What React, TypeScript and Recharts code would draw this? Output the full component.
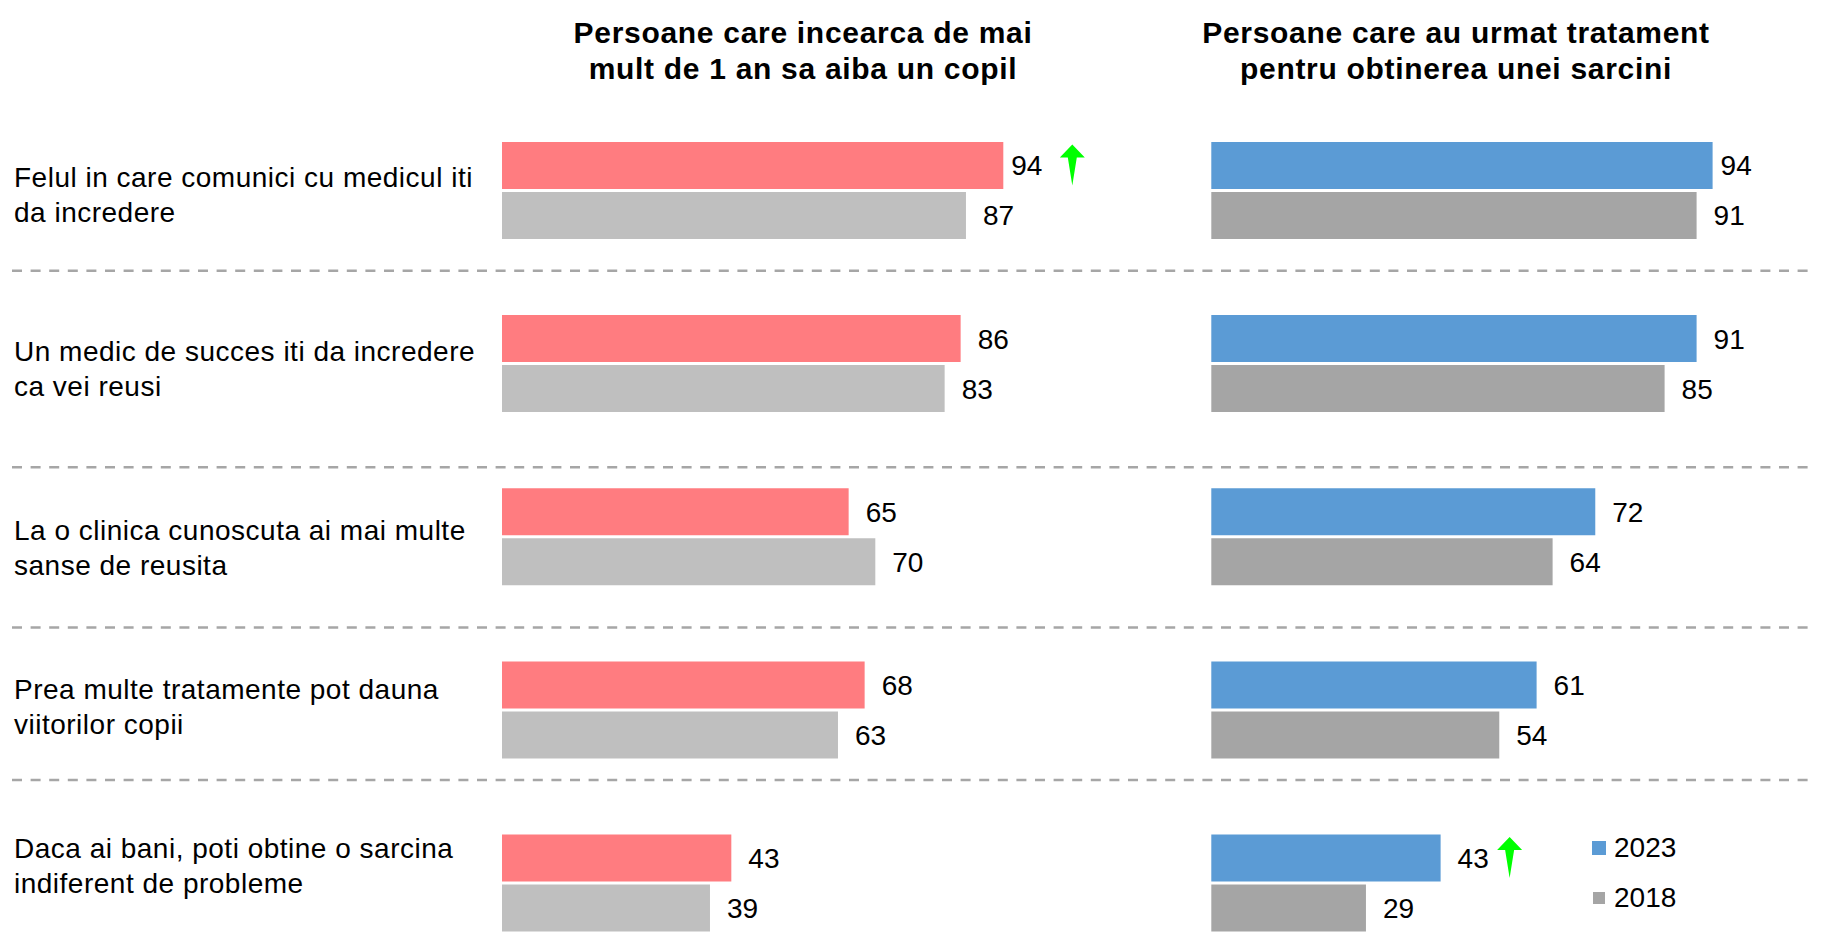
import React from 'react';
import { BarChart, Bar, XAxis, YAxis, LabelList, Legend } from 'recharts';

// ---------- data ----------
const categories: string[] = [
  'Felul in care comunici cu medicul iti\nda incredere',
  'Un medic de succes iti da incredere\nca vei reusi',
  'La o clinica cunoscuta ai mai multe\nsanse de reusita',
  'Prea multe tratamente pot dauna\nviitorilor copii',
  'Daca ai bani, poti obtine o sarcina\nindiferent de probleme',
];
const years: string[] = ['2023', '2018'];
const incearca2023: number[] = [94, 86, 65, 68, 43];
const incearca2018: number[] = [87, 83, 70, 63, 39];
const tratament2023: number[] = [94, 91, 72, 61, 43];
const tratament2018: number[] = [91, 85, 64, 54, 29];
const incearcaSignificantUp: boolean[] = [true, false, false, false, false];
const tratamentSignificantUp: boolean[] = [false, false, false, false, true];
const leftTitle: string[] = ['Persoane care incearca de mai', 'mult de 1 an sa aiba un copil'];
const rightTitle: string[] = ['Persoane care au urmat tratament', 'pentru obtinerea unei sarcini'];

// ---------- layout / style ----------
const FONT = '"Liberation Sans", Arial, Helvetica, sans-serif';
const PINK = '#FF7C80';
const LIGHT_GRAY = '#BFBFBF';
const BLUE = '#5B9BD5';
const GRAY = '#A5A5A5';
const GREEN = '#00FF00';
const CHART_H = 980;
const MARGIN_TOP = 103.9;
const MARGIN_BOTTOM = CHART_H - 969.8;
const PLOT_W = 533.3;
const LABEL_NUDGE = [-3.5, -2.3, 3.6, -11.5, -25.5];
const SEPARATORS_Y = [270.7, 467.2, 627.6, 780];

const leftData = categories.map((name, i) => ({
  name,
  v2023: incearca2023[i],
  v2018: incearca2018[i],
}));
const rightData = categories.map((name, i) => ({
  name,
  v2023: tratament2023[i],
  v2018: tratament2018[i],
}));

const arrowPath = (cx: number, cy: number) => {
  const top = cy - 21;
  const head = top + 13;
  const bottom = cy + 20;
  return `M${cx},${top} L${cx + 12.5},${head} L${cx + 4.5},${head} L${cx},${bottom} L${cx - 4.5},${head} L${cx - 12.5},${head} Z`;
};

const makeValueLabel = (flags: boolean[] | null, tightValue: number | null) => (props: any) => {
  const vb = props.viewBox && props.viewBox.width !== undefined ? props.viewBox : props;
  const x = Number(vb.x);
  const y = Number(vb.y);
  const w = Number(vb.width);
  const h = Number(vb.height);
  const idx = props.index;
  const value = props.value;
  const end = x + w;
  const gap = tightValue !== null && Number(value) === tightValue ? 8 : 17;
  const cy = y + h / 2;
  return (
    <g>
      <text x={end + gap} y={cy + 10} fontSize={28} fill="#000" fontFamily={FONT}>
        {value}
      </text>
      {flags && flags[idx] ? <path d={arrowPath(end + 69, cy)} fill={GREEN} /> : null}
    </g>
  );
};

const CategoryTick = (props: any) => {
  const { y, payload } = props;
  const idx = props.index ?? payload?.index ?? 0;
  const lines = String(payload.value).split('\n');
  const base = Number(y) + (LABEL_NUDGE[idx] ?? 0);
  return (
    <text fontSize={28} fill="#000" fontFamily={FONT} letterSpacing={0.5} textAnchor="start">
      {lines.map((l, i) => (
        <tspan key={i} x={14} y={base + i * 35}>
          {l}
        </tspan>
      ))}
    </text>
  );
};

const LegendContent = (props: any) => {
  const payload = [...(props.payload || [])].sort(
    (a: any, b: any) => years.indexOf(String(a.value)) - years.indexOf(String(b.value))
  );
  return (
    <div style={{ fontFamily: FONT, fontSize: 28, color: '#000' }}>
      {payload.map((p: any, i: number) => {
        const s = i === 0 ? 14 : 12;
        return (
          <div key={i} style={{ display: 'flex', alignItems: 'center', height: 50 }}>
            <div style={{ width: 22, display: 'flex', alignItems: 'center', justifyContent: 'flex-start' }}>
              <div style={{ width: s, height: s, background: p.color, marginLeft: i === 0 ? 0 : 1 }} />
            </div>
            <span>{p.value}</span>
          </div>
        );
      })}
    </div>
  );
};

const titleStyle = (center: number): React.CSSProperties => ({
  position: 'absolute',
  top: 15,
  left: center - 320,
  width: 640,
  textAlign: 'center',
  fontFamily: FONT,
  fontWeight: 'bold',
  fontSize: 30,
  lineHeight: '36px',
  letterSpacing: 0.7,
  color: '#000',
});

export default function App() {
  const leftW = 1150;
  const rightLeft = 1150;
  const rightW = 673;
  const rightMarginLeft = 1211.3 - rightLeft;
  return (
    <div
      style={{
        position: 'absolute',
        left: 0,
        top: 0,
        width: 1823,
        height: 946,
        overflow: 'hidden',
        background: '#fff',
        fontFamily: FONT,
      }}
    >
      <div style={titleStyle(803)}>
        {leftTitle.map((t, i) => (
          <div key={i}>{t}</div>
        ))}
      </div>
      <div style={titleStyle(1456)}>
        {rightTitle.map((t, i) => (
          <div key={i}>{t}</div>
        ))}
      </div>

      <div style={{ position: 'absolute', left: 0, top: 0 }}>
        <BarChart
          width={leftW}
          height={CHART_H}
          data={leftData}
          layout="vertical"
          barGap={3}
          margin={{ top: MARGIN_TOP, bottom: MARGIN_BOTTOM, left: 0, right: leftW - 502 - PLOT_W }}
        >
          <XAxis type="number" domain={[0, 100]} hide />
          <YAxis
            type="category"
            dataKey="name"
            width={502}
            axisLine={false}
            tickLine={false}
            interval={0}
            tick={(p: any) => <CategoryTick {...p} />}
          />
          <Bar dataKey="v2023" name={years[0]} fill={PINK} barSize={47} isAnimationActive={false}>
            <LabelList dataKey="v2023" content={makeValueLabel(incearcaSignificantUp, Math.max(...incearca2023))} />
          </Bar>
          <Bar dataKey="v2018" name={years[1]} fill={LIGHT_GRAY} barSize={47} isAnimationActive={false}>
            <LabelList dataKey="v2018" content={makeValueLabel(null, null)} />
          </Bar>
        </BarChart>
      </div>

      <div style={{ position: 'absolute', left: rightLeft, top: 0 }}>
        <BarChart
          width={rightW}
          height={CHART_H}
          data={rightData}
          layout="vertical"
          barGap={3}
          margin={{ top: MARGIN_TOP, bottom: MARGIN_BOTTOM, left: rightMarginLeft, right: rightW - rightMarginLeft - PLOT_W }}
        >
          <XAxis type="number" domain={[0, 100]} hide />
          <YAxis type="category" dataKey="name" hide width={0} />
          <Bar dataKey="v2023" name={years[0]} fill={BLUE} barSize={47} isAnimationActive={false}>
            <LabelList dataKey="v2023" content={makeValueLabel(tratamentSignificantUp, Math.max(...tratament2023))} />
          </Bar>
          <Bar dataKey="v2018" name={years[1]} fill={GRAY} barSize={47} isAnimationActive={false}>
            <LabelList dataKey="v2018" content={makeValueLabel(null, null)} />
          </Bar>
          <Legend
            layout="vertical"
            align="center"
            verticalAlign="middle"
            content={(p: any) => <LegendContent {...p} />}
            wrapperStyle={{ position: 'absolute', left: 1592 - rightLeft, top: 823, width: 200, height: 100 }}
          />
        </BarChart>
      </div>

      <svg
        width={1823}
        height={946}
        style={{ position: 'absolute', left: 0, top: 0, pointerEvents: 'none' }}
      >
        {SEPARATORS_Y.map((yy, i) => (
          <line
            key={i}
            x1={12}
            x2={1816}
            y1={yy}
            y2={yy}
            stroke="#A6A6A6"
            strokeWidth={2.5}
            strokeDasharray="10 8.6"
          />
        ))}
      </svg>
    </div>
  );
}
